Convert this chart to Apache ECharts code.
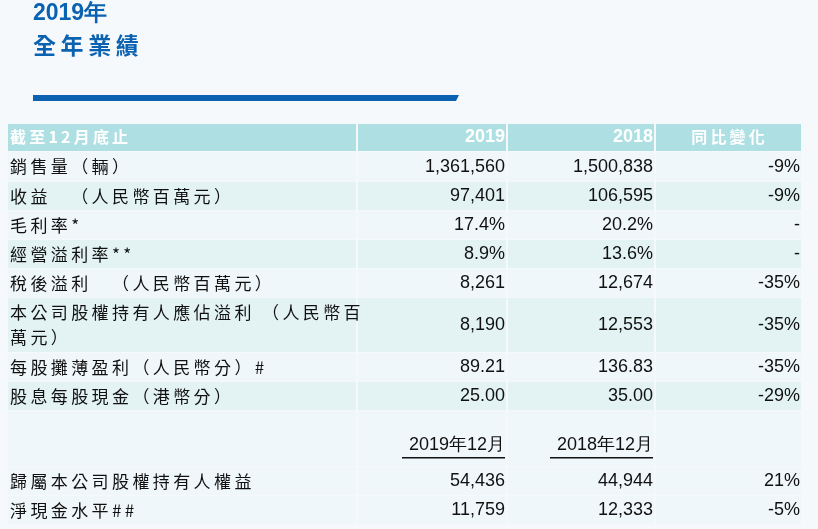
<!DOCTYPE html>
<html><head><meta charset="utf-8">
<script src="https://cdn.jsdelivr.net/npm/echarts@6/dist/echarts.min.js"></script>
<style>html,body{margin:0;padding:0;background:#f5f9fc}#c{width:818px;height:529px}</style>
</head><body><div id="c"></div>
<script>
var headers = ['截至12月底止', '2019', '2018', '同比變化'];
var labels = ['銷售量（輛）', '收益　（人民幣百萬元）', '毛利率*', '經營溢利率**', '稅後溢利　（人民幣百萬元）', '本公司股權持有人應佔溢利 （人民幣百\n萬元）', '每股攤薄盈利（人民幣分）#', '股息每股現金（港幣分）'];
var val2019 = ['1,361,560', '97,401', '17.4%', '8.9%', '8,261', '8,190', '89.21', '25.00'];
var val2018 = ['1,500,838', '106,595', '20.2%', '13.6%', '12,674', '12,553', '136.83', '35.00'];
var change = ['-9%', '-9%', '-', '-', '-35%', '-35%', '-35%', '-29%'];
var subHeaders = ['2019年12月', '2018年12月'];
var labels2 = ['歸屬本公司股權持有人權益', '淨現金水平##'];
var val2019b = ['54,436', '11,759'];
var val2018b = ['44,944', '12,333'];
var change2 = ['21%', '-5%'];

var colX = [7, 357, 507, 655, 802];
var rowY = [151, 181, 210, 239, 268, 297, 352, 381, 410];
var els = [];
var cjk = '"Noto Sans CJK TC", "Noto Sans CJK SC", sans-serif';
var num = '"Liberation Sans", Arial, sans-serif';
function spaced(s) {
  return s.split('\n').map(function (l) { return Array.from(l).join('\u2009'); }).join('\n');
}
function cell(x0, x1, y0, y1, fill) {
  els.push({type:'rect', shape:{x:x0+1, y:y0+1, width:x1-x0-2, height:y1-y0-2}, style:{fill:fill}});
}
function txt(s, x, y, align, font, color, size, weight) {
  els.push({type:'text', x:x, y:y, style:{text:s, align:align, verticalAlign:'middle', fill:color||'#111', font:(weight||'normal')+' '+(size||17)+'px '+font, lineHeight:25}});
}
// title
txt('2019年', 33, 14, 'left', num, '#0b62b0', 23, 'bold');
txt(spaced('全年業績'), 33, 45, 'left', cjk, '#0b62b0', 23, 'bold');
els.push({type:'polygon', shape:{points:[[33,95],[459,95],[456,101],[33,101]]}, style:{fill:'#0b62b0'}});
// header
for (var c = 0; c < 4; c++) cell(colX[c], colX[c+1], 123, 152, '#aee0e3');
txt(spaced(headers[0]), 10, 137, 'left', cjk, '#fff', 16, 'bold');
txt(headers[1], 505, 137, 'right', num, '#fff', 18, 'bold');
txt(headers[2], 653, 137, 'right', num, '#fff', 18, 'bold');
txt(spaced(headers[3]), 728, 137, 'center', cjk, '#fff', 16, 'bold');
for (var i = 0; i < labels.length; i++) {
  var y0 = rowY[i], y1 = rowY[i+1], fill = i % 2 ? '#e3f3f4' : '#eff7fa';
  for (var c = 0; c < 4; c++) cell(colX[c], colX[c+1], y0, y1+1, fill);
  var ym = (y0 + y1) / 2 + 1;
  txt(spaced(labels[i]), 10, ym, 'left', cjk, '#111', 17);
  txt(val2019[i], 505, ym, 'right', num, '#111', 18);
  txt(val2018[i], 653, ym, 'right', num, '#111', 18);
  txt(change[i], 800, ym, 'right', num, '#111', 18);
}
for (var c = 0; c < 4; c++) { cell(colX[c], colX[c+1], 410, 467, '#eff7fa'); }
txt(subHeaders[0], 505, 445, 'right', num, '#111', 18);
txt(subHeaders[1], 653, 445, 'right', num, '#111', 18);
els.push({type:'rect', shape:{x:402, y:457, width:103, height:1.5}, style:{fill:'#111'}});
els.push({type:'rect', shape:{x:550, y:457, width:103, height:1.5}, style:{fill:'#111'}});
var rowY2 = [466, 495, 524];
for (var i = 0; i < labels2.length; i++) {
  var y0 = rowY2[i], y1 = rowY2[i+1];
  for (var c = 0; c < 4; c++) cell(colX[c], colX[c+1], y0, y1+1, '#eff7fa');
  var ym = (y0 + y1) / 2 + 1;
  txt(spaced(labels2[i]), 10, ym, 'left', cjk, '#111', 17);
  txt(val2019b[i], 505, ym, 'right', num, '#111', 18);
  txt(val2018b[i], 653, ym, 'right', num, '#111', 18);
  txt(change2[i], 800, ym, 'right', num, '#111', 18);
}
var chart = echarts.init(document.getElementById('c'));
chart.setOption({backgroundColor:'#f5f9fc', graphic:{elements:els}});
</script></body></html>
